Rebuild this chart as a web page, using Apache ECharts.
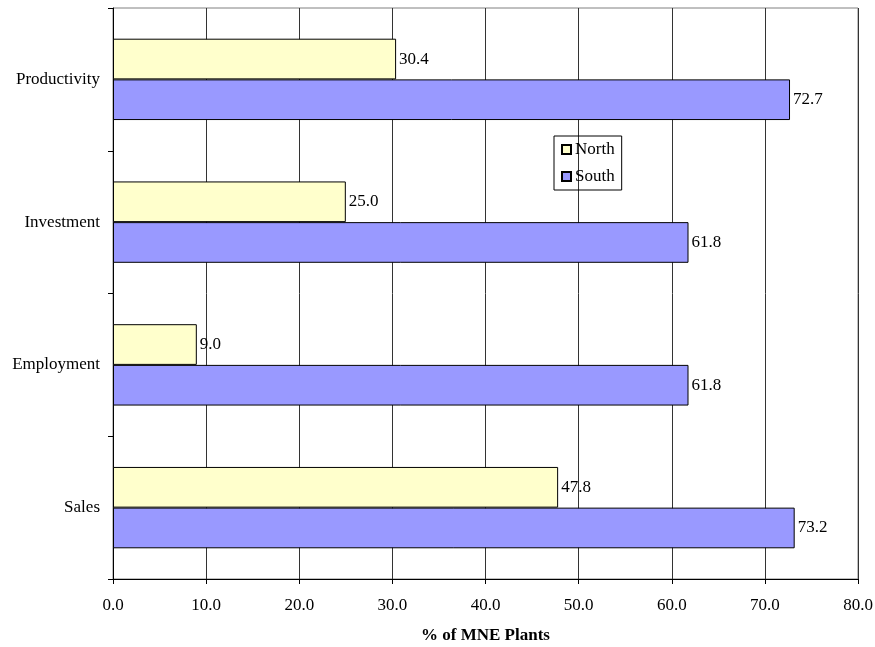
<!DOCTYPE html>
<html>
<head>
<meta charset="utf-8">
<script src="https://cdn.jsdelivr.net/npm/echarts@6/dist/echarts.min.js"></script>
<style>html,body{margin:0;padding:0;background:#fff}#c{width:875px;height:647px}</style>
</head>
<body>
<div id="c"></div>
<script>
const categories = ['Sales', 'Employment', 'Investment', 'Productivity'];
const northValues = [47.8, 9.0, 25.0, 30.4];
const southValues = [73.2, 61.8, 61.8, 72.7];
const xTicks = [0, 10, 20, 30, 40, 50, 60, 70, 80];

const FONT = '"Liberation Serif", "Times New Roman", serif';
const chart = echarts.init(document.getElementById('c'), null, {renderer: 'canvas'});
const labelCfg = {
  show: true, position: 'right', distance: 3,
  fontFamily: FONT, fontSize: 17, color: '#000',
  formatter: p => p.value.toFixed(1)
};
chart.setOption({
  animation: false,
  textStyle: {fontFamily: FONT},
  grid: {left: 113, right: 17, top: 8, bottom: 68, containLabel: false, outerBoundsMode: 'none',
         show: true, borderColor: '#808080', borderWidth: 1},
  legend: {
    orient: 'vertical', left: 554, top: 136,
    itemWidth: 9, itemHeight: 9, itemGap: 10,
    padding: [5, 7, 5, 7],
    borderColor: '#000', borderWidth: 1,
    textStyle: {fontFamily: FONT, fontSize: 17, color: '#000', padding: [0, 0, 0, -1]},
    data: [{name: 'North', icon: 'rect'}, {name: 'South', icon: 'rect'}]
  },
  xAxis: {
    type: 'value', min: xTicks[0], max: xTicks[xTicks.length - 1], interval: 10,
    name: '% of MNE Plants', nameLocation: 'middle', nameGap: 48,
    nameTextStyle: {fontFamily: FONT, fontSize: 17, fontWeight: 'bold', color: '#000'},
    axisLine: {show: true, lineStyle: {color: '#000', width: 1}},
    axisTick: {show: true, length: 5, lineStyle: {color: '#000'}},
    axisLabel: {fontFamily: FONT, fontSize: 17, color: '#000', margin: 18, formatter: v => v.toFixed(1)},
    splitLine: {show: true, lineStyle: {color: '#333', width: 1}}
  },
  yAxis: {
    type: 'category', data: categories,
    axisLine: {show: true, lineStyle: {color: '#000', width: 1}},
    axisTick: {show: true, length: 5, lineStyle: {color: '#000'}},
    axisLabel: {fontFamily: FONT, fontSize: 17, color: '#000', margin: 13},
    splitLine: {show: false}
  },
  series: [
    {name: 'North', type: 'bar', data: northValues, barGap: '0%', barCategoryGap: '43%',
     itemStyle: {color: '#FFFFCC', borderColor: '#000', borderWidth: 1}, label: labelCfg},
    {name: 'South', type: 'bar', data: southValues, barGap: '0%', barCategoryGap: '43%',
     itemStyle: {color: '#9999FF', borderColor: '#000', borderWidth: 1}, label: labelCfg}
  ]
});
</script>
</body>
</html>
